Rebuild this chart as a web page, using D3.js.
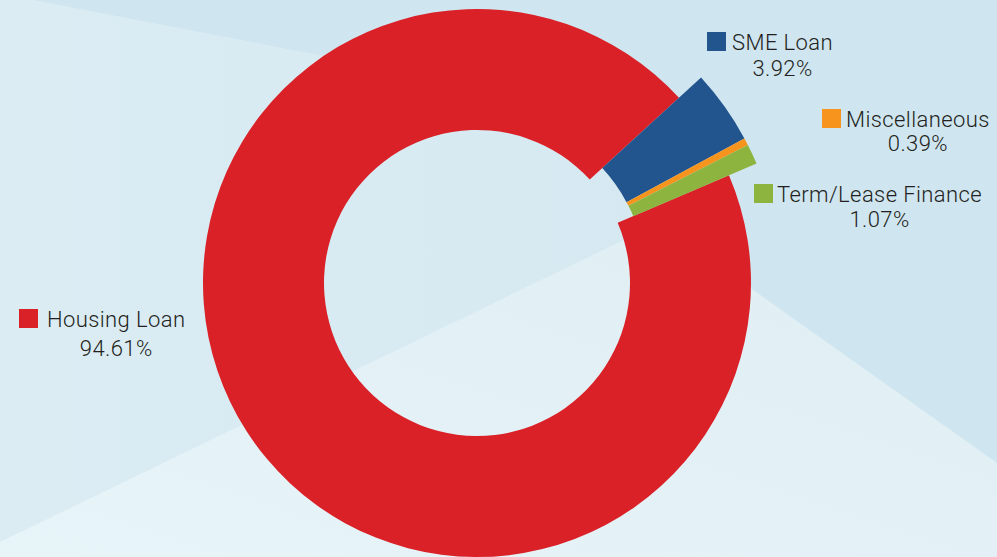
<!DOCTYPE html>
<html>
<head>
<meta charset="utf-8">
<script src="https://cdn.jsdelivr.net/npm/d3@7/dist/d3.min.js"></script>
<style>
body{margin:0;overflow:hidden;background:#d5e8f1}
svg{display:block}
</style>
</head>
<body>
<div id="chart"></div>
<script>
//Chart data
var categories=["Housing Loan","SME Loan","Miscellaneous","Term/Lease Finance"];
var shares=[94.61,3.92,0.39,1.07];
var shareLabels=["94.61%","3.92%","0.39%","1.07%"];
var colors=["#da2128","#22548e","#f7941e","#8cb43f"];
var exploded=[false,true,true,true];

var w=997, h=557;
var cx=477, cy=283;
var rIn=153, rOut=274;
//pulled-out slices sit further out
var rInX=170, rOutX=304;
var startDeg=66.85;

//legend anchor: square left, label baseline, text offset, percent offset
var legendPos=[{x:19,y:327,tx:28,dy:29},{x:707,y:50,tx:25,dy:26},{x:822,y:127,tx:24,dy:24},{x:754,y:202,tx:23,dy:25}];

var svg=d3.select("#chart")
          .append("svg")
          .attr("width",w)
          .attr("height",h);

//Background facets
var defs=svg.append("defs");
var g1=defs.append("linearGradient").attr("id","bgBase").attr("x1","0").attr("y1","0").attr("x2","1").attr("y2","0");
g1.append("stop").attr("offset","0").attr("stop-color","#dbecf3");
g1.append("stop").attr("offset","1").attr("stop-color","#d3e7f0");
var g2=defs.append("linearGradient").attr("id","bgLow").attr("x1","0").attr("y1","1").attr("x2","1").attr("y2","0");
g2.append("stop").attr("offset","0").attr("stop-color","#e7f4f8");
g2.append("stop").attr("offset","1").attr("stop-color","#dfeef4");

svg.append("rect").attr("width",w).attr("height",h).attr("fill","url(#bgBase)");
svg.append("polygon")
   .attr("points","33,0 997,0 997,463 700,253 640,100 330,57")
   .attr("fill","#cfe5ef");
svg.append("polygon")
   .attr("points","0,542 659,223 997,463 997,557 0,557")
   .attr("fill","url(#bgLow)");

//Pie layout
var data=categories.map(function(c,i){return {name:c,value:shares[i],label:shareLabels[i],color:colors[i],out:exploded[i]};});
var a0=startDeg*Math.PI/180;
var pie=d3.pie()
          .sort(null)
          .value(function(d){return d.value;})
          .startAngle(a0)
          .endAngle(a0+2*Math.PI);

var arcMain=d3.arc().innerRadius(rIn).outerRadius(rOut);
var arcOut=d3.arc().innerRadius(rInX).outerRadius(rOutX);

svg.append("g")
   .attr("class","slices")
   .attr("transform","translate("+cx+","+cy+")")
   .selectAll("path")
   .data(pie(data))
   .enter()
   .append("path")
   .attr("d",function(d){return d.data.out?arcOut(d):arcMain(d);})
   .attr("fill",function(d){return d.data.color;});

//Legend labels
var leg=svg.append("g")
           .attr("class","legend")
           .selectAll("g")
           .data(data)
           .enter()
           .append("g")
           .attr("transform",function(d,i){return "translate("+legendPos[i].x+","+legendPos[i].y+")";});

leg.append("rect")
   .attr("x",0)
   .attr("y",-18)
   .attr("width",19)
   .attr("height",19)
   .attr("fill",function(d){return d.color;});

leg.append("text")
   .attr("x",function(d,i){return legendPos[i].tx;})
   .attr("y",0)
   .attr("font-family","Roboto")
   .attr("font-weight",300)
   .attr("font-size","22px")
   .attr("letter-spacing","0.4px")
   .attr("fill","#231f20")
   .text(function(d){return d.name;});

leg.each(function(d,i){
    var t=d3.select(this).select("text").node();
    var tw=t.getComputedTextLength();
    d3.select(this).append("text")
      .attr("x",legendPos[i].tx+tw/2)
      .attr("y",legendPos[i].dy)
      .attr("text-anchor","middle")
      .attr("font-family","Roboto")
      .attr("font-weight",300)
      .attr("font-size","22px")
      .attr("letter-spacing","0.4px")
      .attr("fill","#231f20")
      .text(d.label);
});
</script>
</body>
</html>
